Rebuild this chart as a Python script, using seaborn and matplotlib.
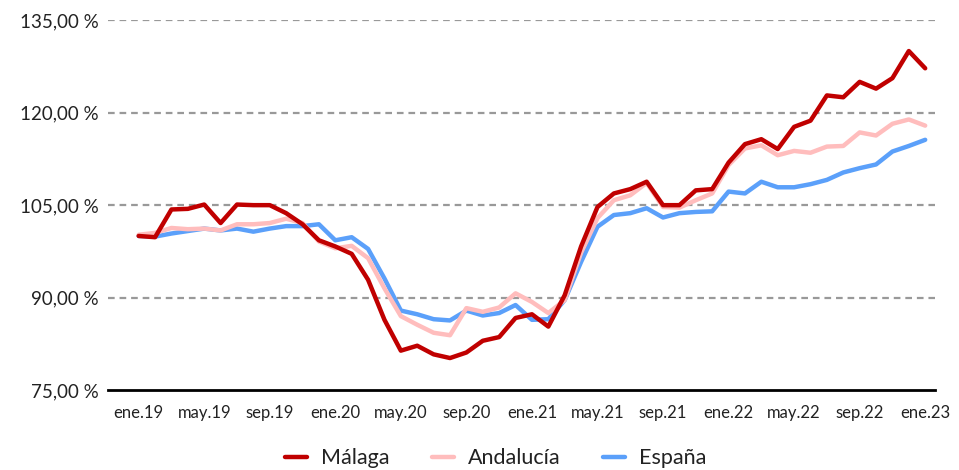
import numpy as np
import pandas as pd
import matplotlib
matplotlib.use("Agg")
import matplotlib.pyplot as plt
import seaborn as sns

# Monthly index values (%), ene.19 .. ene.23
meses = ["ene", "feb", "mar", "abr", "may", "jun", "jul", "ago", "sep", "oct", "nov", "dic"]
labels = [f"{meses[m]}.{19 + y}" for y in range(5) for m in range(12)][:49]

malaga = [100.0, 99.8, 104.3, 104.4, 105.1, 102.1, 105.1, 105.0, 105.0, 103.7,
          101.9, 99.3, 98.3, 97.1, 92.9, 86.4, 81.4, 82.2, 80.8, 80.2,
          81.1, 83.0, 83.6, 86.7, 87.3, 85.3, 90.4, 98.3, 104.7, 106.9,
          107.6, 108.8, 105.0, 105.0, 107.4, 107.6, 111.9, 114.9, 115.7, 114.1,
          117.7, 118.7, 122.8, 122.5, 125.0, 123.9, 125.6, 130.0, 127.2]
andalucia = [100.2, 100.5, 101.3, 101.1, 101.2, 100.9, 101.9, 101.9, 102.1, 102.8,
             102.1, 99.1, 98.0, 98.4, 96.4, 91.5, 87.0, 85.6, 84.3, 83.9,
             88.3, 87.7, 88.4, 90.7, 89.3, 87.5, 89.6, 97.3, 102.9, 105.8,
             106.6, 108.6, 104.7, 104.6, 105.8, 106.9, 111.5, 114.2, 114.7, 113.1,
             113.8, 113.5, 114.5, 114.6, 116.8, 116.3, 118.2, 118.9, 117.9]
espana = [100.0, 99.9, 100.4, 100.8, 101.2, 100.9, 101.2, 100.7, 101.2, 101.6,
          101.6, 101.9, 99.3, 99.8, 97.9, 93.1, 87.9, 87.3, 86.5, 86.3,
          87.9, 87.1, 87.5, 88.8, 86.4, 86.5, 89.6, 95.8, 101.5, 103.4,
          103.7, 104.5, 103.0, 103.7, 103.9, 104.0, 107.2, 106.9, 108.8, 107.9,
          107.9, 108.4, 109.1, 110.3, 111.0, 111.6, 113.7, 114.6, 115.6]

series = ["Málaga", "Andalucía", "España"]
colors = {"Málaga": "#C00000", "Andalucía": "#FFBDBD", "España": "#5BA0FA"}

df = pd.concat([
    pd.DataFrame({"mes": np.arange(len(v)), "valor": v, "serie": name})
    for name, v in zip(series, [malaga, andalucia, espana])
])

sns.set_style("white")
plt.rcParams["font.family"] = ["Lato", "DejaVu Sans"]

fig = plt.figure(figsize=(9.59, 4.70), dpi=100)
ax = fig.add_axes([0.113, 0.170, 0.862, 0.787])

for y in [90, 105, 120, 135]:
    ax.axhline(y, color="#999999", lw=1.6, ls=(0, (3, 2.2)), zorder=0)

# draw España first so Málaga ends up on top
sns.lineplot(data=df, x="mes", y="valor", hue="serie",
             hue_order=["España", "Andalucía", "Málaga"], palette=colors,
             lw=3.2, ax=ax, legend=False)

ax.set_xlim(-1.85, 48.6)
ax.set_ylim(75, 135)
ax.set_yticks([75, 90, 105, 120, 135])
ax.set_yticklabels([f"{v:.2f}".replace(".", ",") + " %" for v in [75, 90, 105, 120, 135]],
                   fontsize=13.5, color="#222222")
ticks = list(range(0, 49, 4))
ax.set_xticks(ticks)
ax.set_xticklabels([labels[i] for i in ticks], fontsize=12, color="#222222")
ax.tick_params(axis="both", length=0)
ax.tick_params(axis="x", pad=11)
ax.tick_params(axis="y", pad=7)
ax.set_xlabel("")
ax.set_ylabel("")
for s in ["top", "right", "left"]:
    ax.spines[s].set_visible(False)
ax.spines["bottom"].set_color("black")
ax.spines["bottom"].set_linewidth(2)

handles = [plt.Line2D([0], [0], color=colors[s], lw=3.2) for s in series]
fig.legend(handles, series, loc="center", bbox_to_anchor=(0.517, 0.025),
           ncol=3, frameon=False, fontsize=15.5, handlelength=1.0,
           columnspacing=2.0, handletextpad=0.65,
           labelcolor="#222222")

fig.savefig("out.png", dpi=100)
